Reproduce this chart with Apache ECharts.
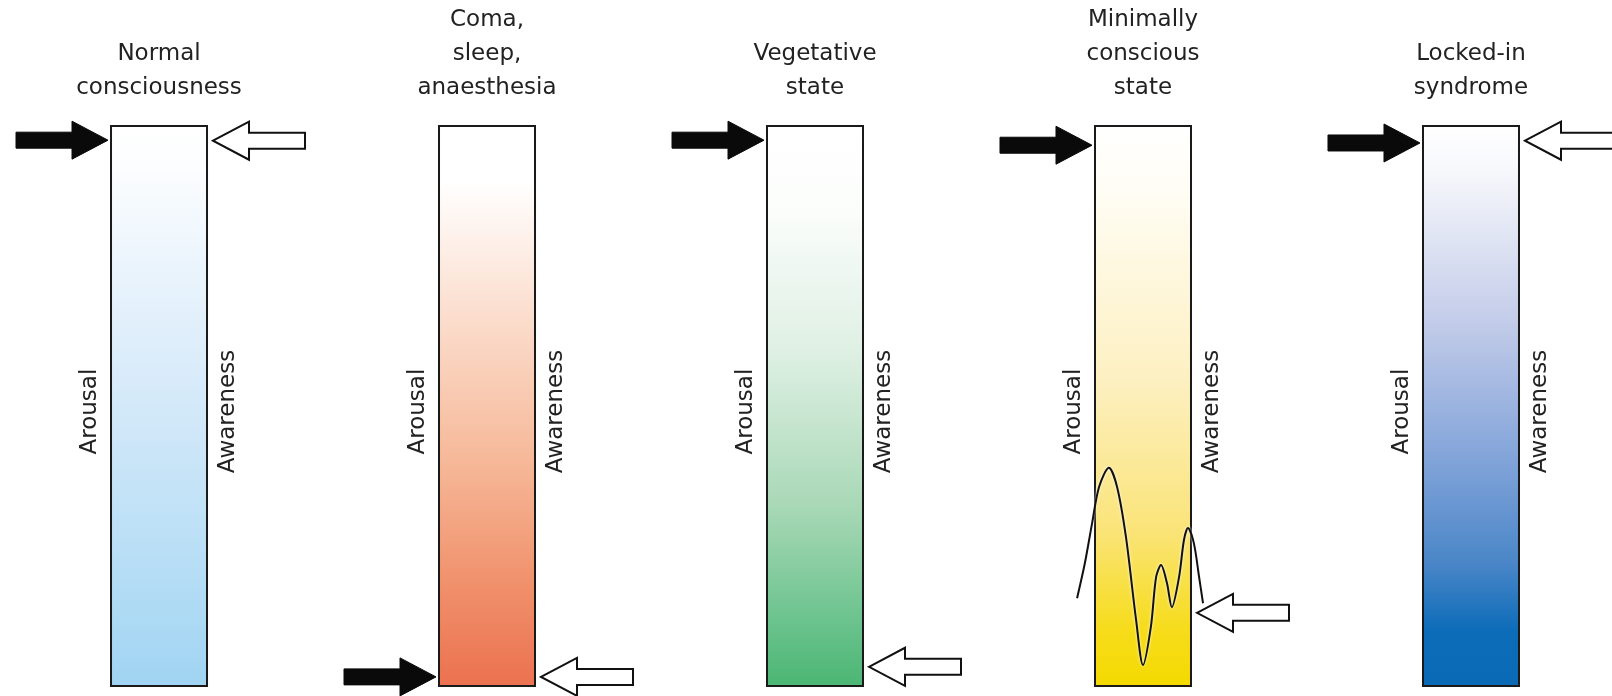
<!DOCTYPE html>
<html>
<head>
<meta charset="utf-8">
<script src="https://cdn.jsdelivr.net/npm/echarts@6/dist/echarts.min.js"></script>
<style>
html,body{margin:0;padding:0;background:#fff;}
#main{width:1612px;height:696px;}
</style>
</head>
<body>
<div id="main"></div>
<script>
// ---- data ----
var states = ['Normal\nconsciousness', 'Coma,\nsleep,\nanaesthesia', 'Vegetative\nstate', 'Minimally\nconscious\nstate', 'Locked-in\nsyndrome'];
var arousalLevel = [0.973, 0.018, 0.973, 0.964, 0.968];
var awarenessLevel = [0.972, 0.018, 0.036, 0.132, 0.972];
var barFull = [1, 1, 1, 1, 1];
var leftLabel = 'Arousal';
var rightLabel = 'Awareness';
// fluctuating awareness trace of the minimally conscious state (offset from its bar, level)
var waveOffset = [-0.201, -0.177, -0.155, -0.134, -0.104, -0.079, -0.052, -0.021, 0.000, 0.024, 0.040, 0.055, 0.073, 0.088, 0.110, 0.125, 0.137, 0.155, 0.171, 0.183];
var waveLevel  = [0.158, 0.221, 0.292, 0.356, 0.390, 0.356, 0.267, 0.119, 0.039, 0.107, 0.196, 0.217, 0.185, 0.142, 0.196, 0.262, 0.283, 0.256, 0.196, 0.149];
var waveState = 3;
// gradient stops per bar (top -> bottom)
var gradients = [
  [['#ffffff', 0], ['#fbfdff', 0.08], ['#dbecfa', 0.42], ['#bde0f6', 0.72], ['#a0d4f2', 1]],
  [['#ffffff', 0], ['#ffffff', 0.1], ['#fbdccb', 0.35], ['#f6b898', 0.6], ['#f0906b', 0.82], ['#ec7150', 1]],
  [['#ffffff', 0], ['#fbfdfb', 0.15], ['#dff0e4', 0.4], ['#a8d8b6', 0.68], ['#6cc38e', 0.88], ['#4bb673', 1]],
  [['#ffffff', 0], ['#fffdf4', 0.12], ['#fdf0c2', 0.45], ['#fae479', 0.72], ['#f6dc1a', 0.9], ['#f4da00', 1]],
  [['#ffffff', 0], ['#f7f8fc', 0.08], ['#c3cce9', 0.35], ['#86a6da', 0.58], ['#4a86c8', 0.78], ['#0d6cb8', 0.9], ['#0a6ab6', 1]]
];

var FONT = '23px "DejaVu Sans", sans-serif';
var BAR_W = 98;

var barData = barFull.map(function (v, i) {
  var g = gradients[i];
  return {
    value: [i, v],
    itemStyle: {
      color: new echarts.graphic.LinearGradient(0, 0, 0, 1, g.map(function (s) { return { offset: s[1], color: s[0] }; }))
    }
  };
});

var annotData = states.map(function (s, i) { return [i, arousalLevel[i], awarenessLevel[i]]; });
var waveData = waveOffset.map(function (d, k) { return [waveState + d, waveLevel[k]]; });

function arrowPoints(tx, ty, dir) {
  // dir = 1 pointing right, -1 pointing left
  var hl = 36, hh = 19, sh = 8, len = 92;
  return [
    [tx, ty],
    [tx - dir * hl, ty - hh],
    [tx - dir * hl, ty - sh],
    [tx - dir * len, ty - sh],
    [tx - dir * len, ty + sh],
    [tx - dir * hl, ty + sh],
    [tx - dir * hl, ty + hh]
  ];
}

function renderAnnot(params, api) {
  var i = api.value(0);
  var cx = api.coord([i, 0])[0];
  var top = api.coord([i, 1])[1];
  var mid = api.coord([i, 0.49])[1];
  var ya = api.coord([i, api.value(1)])[1];
  var yw = api.coord([i, api.value(2)])[1];
  var half = BAR_W / 2;
  return {
    type: 'group',
    children: [
      { type: 'polygon', shape: { points: arrowPoints(cx - half - 2, ya, 1) },
        style: { fill: '#0a0a0a', stroke: '#0a0a0a', lineWidth: 1 } },
      { type: 'polygon', shape: { points: arrowPoints(cx + half + 5, yw, -1) },
        style: { fill: '#ffffff', stroke: '#111', lineWidth: 2 } },
      { type: 'text', x: cx - half - 20, y: mid, rotation: Math.PI / 2,
        style: { text: leftLabel, x: 0, y: 0, font: FONT, fill: '#222', align: 'center', verticalAlign: 'middle' } },
      { type: 'text', x: cx + half + 20, y: mid, rotation: Math.PI / 2,
        style: { text: rightLabel, x: 0, y: 0, font: FONT, fill: '#222', align: 'center', verticalAlign: 'middle' } },
      { type: 'text', x: cx, y: top - 20,
        style: { text: states[i], x: 0, y: 0, font: FONT, fill: '#222', align: 'center', verticalAlign: 'bottom', lineHeight: 34 } }
    ]
  };
}

var chart = echarts.init(document.getElementById('main'), null, { renderer: 'canvas' });
chart.setOption({
  backgroundColor: '#ffffff',
  animation: false,
  grid: { left: 0, right: 0, top: 125, bottom: 9, containLabel: false },
  xAxis: { type: 'value', min: -0.4848, max: 4.4299, show: false },
  yAxis: { type: 'value', min: 0, max: 1, show: false },
  series: [
    {
      type: 'bar', data: barData, barWidth: BAR_W, z: 1,
      itemStyle: { borderColor: '#1a1a1a', borderWidth: 2 }
    },
    {
      type: 'line', data: waveData, smooth: 0.3, symbol: 'none', z: 3,
      lineStyle: { color: '#111', width: 2, shadowColor: '#ffffff', shadowBlur: 3 }
    },
    {
      type: 'custom', data: annotData, renderItem: renderAnnot, clip: false, z: 4
    }
  ]
});
</script>
</body>
</html>
